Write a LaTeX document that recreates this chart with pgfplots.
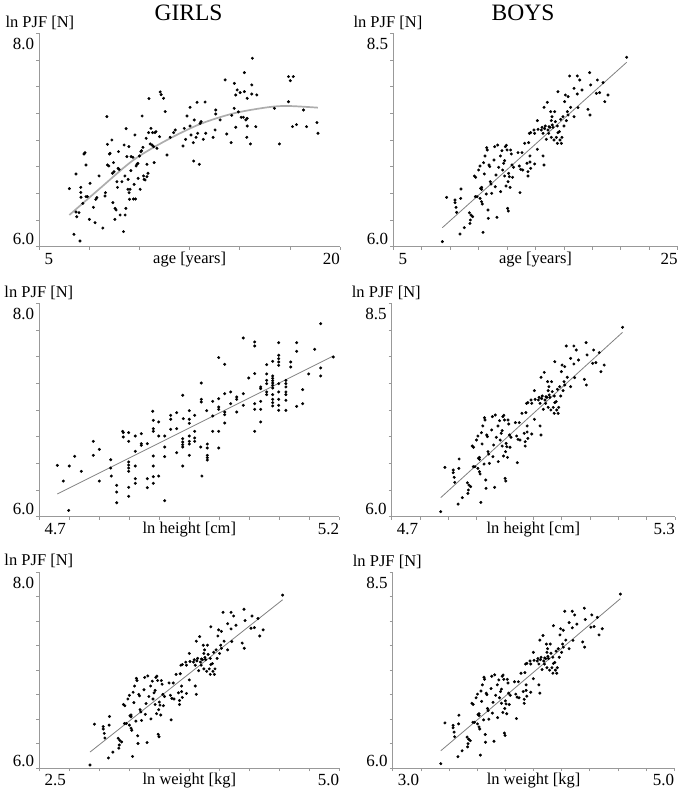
\documentclass[border=0pt]{standalone}
\usepackage{fontspec}
\setmainfont{Liberation Serif}
\usepackage{pgfplots}
\usepackage{pgfplotstable}
\pgfplotsset{compat=1.18}

\newcommand\tickfont{\fontsize{17}{19}\selectfont}
\newcommand\labfont{\fontsize{16.5}{19}\selectfont}

\pgfplotstableread{
age lnpjf
6.50 6.544
6.73 6.116
6.83 6.681
6.83 6.325
6.87 6.281
6.98 6.319
7.03 6.053
7.07 6.556
7.07 6.509
7.08 6.463
7.17 6.406
7.23 6.869
7.28 6.881
7.33 6.766
7.33 6.469
7.40 6.469
7.50 6.256
7.53 6.594
7.70 6.369
7.78 6.225
7.82 6.444
7.87 6.460
7.98 6.663
8.17 6.175
8.28 6.475
8.30 6.506
8.37 7.219
8.40 6.959
8.40 6.766
8.47 6.756
8.50 6.869
8.53 6.875
8.62 7.000
8.65 6.688
8.67 6.413
8.70 6.788
8.73 6.703
8.77 6.256
8.78 6.359
8.83 6.344
8.87 6.609
8.90 6.556
8.93 6.734
8.98 6.725
8.95 6.891
9.03 6.297
9.12 6.609
9.20 6.141
9.23 6.953
9.27 6.663
9.28 6.297
9.32 6.359
9.33 7.106
9.37 6.844
9.42 6.538
9.43 6.631
9.47 6.938
9.48 6.506
9.50 6.444
9.53 6.538
9.57 6.713
9.58 6.844
9.67 6.838
9.70 6.447
9.73 6.584
9.77 7.047
9.80 6.447
9.83 6.756
9.87 6.772
9.92 6.781
9.93 6.641
10.00 6.850
10.03 6.538
10.07 6.891
10.10 6.900
10.13 7.225
10.17 6.931
10.20 6.663
10.23 6.631
10.28 6.625
10.33 7.016
10.37 6.656
10.37 6.772
10.42 6.688
10.45 7.069
10.47 7.388
10.53 6.963
10.57 7.109
10.62 6.953
10.65 7.069
10.70 6.938
10.73 6.788
10.77 7.069
10.82 7.078
10.87 6.922
11.00 7.031
11.03 7.450
11.08 7.425
11.20 7.391
11.28 7.266
11.37 6.859
11.53 7.025
11.70 7.069
11.78 7.094
12.17 6.944
12.23 7.109
12.30 7.006
12.37 7.225
12.52 7.306
12.52 7.131
12.57 7.047
12.68 6.975
12.70 6.803
12.73 7.188
12.82 7.025
12.87 7.353
12.90 7.063
12.98 6.772
13.02 7.156
13.07 7.172
13.18 7.006
13.27 7.356
13.30 7.063
13.67 7.025
13.77 7.094
13.80 7.281
13.80 7.244
14.02 7.188
14.27 7.563
14.35 7.056
14.57 6.975
14.60 7.231
14.72 7.297
14.73 7.531
14.80 7.422
14.80 7.119
14.87 7.469
14.93 7.263
15.02 7.444
15.07 7.213
15.18 7.213
15.23 7.631
15.23 7.453
15.30 7.188
15.37 7.391
15.37 7.203
15.35 7.025
15.37 7.131
15.53 6.963
15.60 7.516
15.60 7.431
15.63 7.766
15.80 7.125
15.85 7.422
16.73 7.297
16.98 6.963
17.43 7.594
17.43 7.359
17.52 7.556
17.67 7.594
17.63 7.125
17.83 7.144
18.18 7.281
18.33 7.125
18.85 7.163
18.90 7.063
}\girlsage

\pgfplotstableread{
age lnpjf
6.50 6.297
8.03 6.547
9.70 6.813
11.37 7.000
13.03 7.150
14.70 7.250
16.37 7.306
17.37 7.319
18.90 7.303
}\girlsagefit

\pgfplotstableread{
height lnpjf
4.730 6.481
4.740 6.334
4.749 6.059
4.750 6.475
4.759 6.566
4.770 6.425
4.790 6.706
4.790 6.575
4.800 6.631
4.800 6.334
4.819 6.534
4.819 6.456
4.820 6.381
4.829 6.294
4.829 6.231
4.829 6.131
4.839 6.800
4.840 6.788
4.840 6.747
4.849 6.788
4.849 6.706
4.849 6.513
4.849 6.484
4.849 6.456
4.849 6.425
4.849 6.275
4.849 6.191
4.860 6.756
4.860 6.613
4.860 6.475
4.860 6.356
4.860 6.313
4.870 6.778
4.870 6.684
4.870 6.669
4.880 6.684
4.880 6.356
4.880 6.272
4.889 6.988
4.890 6.903
4.890 6.825
4.890 6.800
4.890 6.569
4.890 6.475
4.890 6.375
4.890 6.313
4.899 6.888
4.899 6.756
4.899 6.381
4.909 6.756
4.909 6.653
4.909 6.563
4.909 6.150
4.919 6.950
4.919 6.913
4.919 6.819
4.929 6.975
4.929 6.825
4.929 6.600
4.939 7.138
4.940 6.919
4.939 6.731
4.939 6.700
4.939 6.675
4.939 6.653
4.939 6.475
4.950 6.994
4.950 6.913
4.950 6.875
4.950 6.756
4.950 6.706
4.950 6.681
4.950 6.575
4.959 6.950
4.959 6.800
4.959 6.738
4.959 6.706
4.970 7.253
4.970 7.100
4.970 7.075
4.969 6.653
4.971 6.381
4.979 6.994
4.980 6.681
4.980 6.644
4.980 6.575
4.980 6.553
4.980 6.531
4.989 7.081
4.989 6.944
4.989 6.800
4.999 7.491
4.999 7.106
4.999 7.028
4.999 7.006
4.999 6.800
4.999 6.644
5.009 7.428
5.009 7.153
5.009 6.981
5.009 6.956
5.009 6.878
5.019 7.169
5.019 7.059
5.029 7.122
5.029 7.100
5.029 6.981
5.040 7.675
5.040 7.153
5.040 7.044
5.049 7.300
5.059 7.638
5.059 7.600
5.059 7.341
5.059 7.059
5.059 7.006
5.059 6.800
5.069 7.216
5.069 7.200
5.069 7.081
5.069 7.006
5.069 6.888
5.079 7.425
5.079 7.338
5.079 7.278
5.079 7.247
5.079 7.169
5.079 7.144
5.089 7.456
5.089 7.319
5.089 7.297
5.089 7.275
5.089 7.253
5.089 7.231
5.089 7.206
5.089 7.144
5.089 7.100
5.089 7.069
5.089 7.038
5.099 7.631
5.099 7.513
5.099 7.481
5.099 7.450
5.099 7.419
5.099 7.247
5.099 7.169
5.099 7.100
5.099 7.044
5.099 6.997
5.111 7.278
5.111 7.247
5.111 7.216
5.111 7.169
5.111 7.144
5.111 7.091
5.111 6.997
5.119 7.450
5.119 7.403
5.129 7.631
5.129 7.550
5.129 7.034
5.139 7.191
5.139 7.059
5.149 7.338
5.159 7.569
5.169 7.809
5.169 7.394
5.169 7.319
5.190 7.497
}\girlsheight

\pgfplotstableread{
height lnpjf
4.730 6.2125
5.190 7.506
}\girlsheightfit

% the boys panels and the girls weight panel show one and the same cloud
\pgfplotstableread{
age lnpjf
8.45 6.059
8.75 6.578
9.34 6.547
9.34 6.516
9.41 6.461
9.45 6.402
9.76 6.676
9.74 6.566
9.69 6.148
9.99 6.223
10.35 6.398
10.46 6.371
10.42 6.313
10.58 6.352
10.39 6.273
10.70 6.828
10.79 6.813
10.77 6.586
10.89 6.586
11.00 6.898
11.10 6.566
11.14 6.684
11.10 6.945
11.21 6.695
11.21 6.672
11.21 6.527
11.26 6.500
11.31 6.168
11.35 6.984
11.40 6.852
11.45 7.063
11.54 6.617
11.57 7.160
11.61 7.133
11.66 6.430
11.68 6.332
11.73 6.957
11.78 6.938
11.82 6.762
11.87 6.734
11.92 6.625
12.08 7.016
12.13 7.172
12.17 6.703
12.22 6.840
12.29 6.344
12.34 7.191
12.41 6.930
12.53 7.063
12.55 6.645
12.64 7.125
12.69 6.898
12.76 6.977
12.83 7.008
12.83 6.828
12.88 7.172
12.95 7.188
13.00 7.133
12.93 6.711
13.07 6.762
13.04 6.449
13.09 6.418
13.11 6.859
13.16 6.820
13.21 6.695
13.25 7.133
13.30 7.086
13.35 6.957
13.39 6.813
13.46 6.930
13.77 7.102
13.86 6.945
13.91 6.633
13.96 6.906
14.05 7.102
14.10 6.898
14.24 7.211
14.40 6.977
14.47 6.879
14.47 6.828
14.52 7.219
14.57 7.328
14.61 7.063
14.61 6.992
14.66 7.336
14.89 7.367
14.94 7.328
15.13 7.477
15.18 7.375
15.41 7.367
15.46 7.398
15.53 7.328
15.60 7.633
15.64 7.383
15.69 7.414
15.76 7.258
15.83 7.691
15.88 7.367
15.93 7.328
15.95 7.406
16.02 7.398
16.07 7.582
16.11 7.477
16.16 7.523
16.11 7.281
16.18 7.426
16.23 7.398
16.30 7.250
16.35 7.582
16.40 7.465
16.47 7.281
16.54 7.414
16.54 7.211
16.58 7.816
16.58 7.336
16.68 7.348
16.72 7.250
16.77 7.492
16.82 7.211
16.86 7.281
16.93 7.523
17.00 7.414
17.05 7.699
17.10 7.777
17.17 7.477
17.24 7.582
17.29 7.543
17.29 7.758
17.40 8.000
17.47 7.633
17.71 7.855
17.71 7.523
17.94 7.789
17.94 8.000
17.99 7.629
18.11 7.953
18.27 7.836
18.69 7.609
18.81 8.039
18.83 7.543
18.88 7.895
19.35 7.953
19.28 7.797
19.51 7.805
19.75 7.922
19.87 7.699
20.10 7.777
21.41 8.219
14.66 6.918
14.94 6.969
15.53 7.063
15.60 6.957
15.13 7.141
}\boyscloud

\pgfplotstableread{
age lnpjf
8.45 6.223
21.41 8.160
}\boysfit

\pgfplotsset{
  panel/.style={
    scale only axis, anchor=south west,
    axis lines*=left,
    axis line style={draw=black!40, line width=0.9pt},
    every tick/.style={draw=black!40, line width=0.7pt},
    tick align=outside,
    major tick length=3pt, minor tick length=3pt,
    clip=false,
    tick label style={font=\tickfont, inner sep=0pt},
    xticklabel style={anchor=north west, xshift=5pt, yshift=-3pt},
    extra x tick style={xticklabel style={anchor=north east, xshift=-5pt}},
    yticklabel style={anchor=south east, xshift=-2pt, yshift=1.5pt},
    extra y tick style={yticklabel style={anchor=north east, yshift=-6.5pt}},
    every axis x label/.style={at={(axis description cs:0.5,0)}, anchor=north, yshift=-5pt, font=\labfont, inner sep=0pt},
    every axis y label/.style={at={(axis description cs:0,1)}, anchor=base west, yshift=6pt, font=\labfont, inner sep=0pt},
    ylabel={ln PJF [N]},
  },
  girlsy/.style={ymin=6, ymax=8, ytick={6}, yticklabels={6.0}, extra y ticks={8}, extra y tick labels={8.0},
    minor ytick={6.25,6.5,6.75,7,7.25,7.5,7.75}},
  boysy/.style={ymin=6, ymax=8.5, ytick={6}, yticklabels={6.0}, extra y ticks={8.5}, extra y tick labels={8.5},
    minor ytick={6.3125,6.625,6.9375,7.25,7.5625,7.875,8.1875}},
  dots/.style={only marks, mark=*, mark size=1.3pt, mark options={draw=black, fill=black}},
  fit/.style={no marks, draw=black!50, line width=0.8pt},
}

\begin{document}
\begin{tikzpicture}
\path[use as bounding box] (0pt,0pt) rectangle (685pt,795pt);

\node[font=\fontsize{23.5}{26}\selectfont, anchor=base] at (188.5pt,774.3pt) {GIRLS};
\node[font=\fontsize{23.5}{26}\selectfont, anchor=base] at (523pt,774.3pt) {BOYS};

% girls age
\begin{axis}[panel, girlsy, at={(39.3pt,548.3pt)}, width=300.7pt, height=213.4pt,
  xmin=5, xmax=20, xtick={5}, xticklabels={5}, extra x ticks={20}, extra x tick labels={20},
  minor xtick={7.5,10,12.5,15,17.5},
  xlabel={age [years]}, ylabel style={xshift=-34pt}]
\addplot[dots] table[x=age, y=lnpjf] {\girlsage};
\addplot[no marks, draw=black!32, line width=1.7pt, smooth] table[x=age, y=lnpjf] {\girlsagefit};
\end{axis}

% boys age
\begin{axis}[panel, boysy, at={(393.3pt,548.3pt)}, width=284.4pt, height=213.4pt,
  xmin=5, xmax=25, xtick={5}, xticklabels={5}, extra x ticks={25}, extra x tick labels={25},
  minor xtick={7,9,11,13,15,17,19,21,23},
  xlabel={age [years]}, ylabel style={xshift=-40pt}]
\addplot[dots] table[x=age, y=lnpjf] {\boyscloud};
\addplot[fit] table[x=age, y=lnpjf] {\boysfit};
\end{axis}

% girls height
\begin{axis}[panel, girlsy, at={(39.3pt,278.3pt)}, width=300pt, height=213.4pt,
  xmin=4.7, xmax=5.2, xtick={4.7}, xticklabels={4.7}, extra x ticks={5.2}, extra x tick labels={5.2},
  minor xtick={4.75,4.8,4.85,4.9,4.95,5.0,5.05,5.1,5.15},
  xlabel={ln height [cm]}, ylabel style={xshift=-35pt}]
\addplot[dots] table[x=height, y=lnpjf] {\girlsheight};
\addplot[fit] table[x=height, y=lnpjf] {\girlsheightfit};
\end{axis}

% boys height
\begin{axis}[panel, boysy, at={(391.7pt,278.3pt)}, width=283.3pt, height=213.4pt,
  xmin=4.7, xmax=5.3, xtick={4.7}, xticklabels={4.7}, extra x ticks={5.3}, extra x tick labels={5.3},
  minor xtick={4.76,4.82,4.88,4.94,5.0,5.06,5.12,5.18,5.24},
  xlabel={ln height [cm]}, ylabel style={xshift=-40pt}]
\addplot[dots] table[x expr={4.5527+0.029716*\thisrow{age}}, y=lnpjf] {\boyscloud};
\addplot[fit] table[x expr={4.5527+0.029716*\thisrow{age}}, y=lnpjf] {\boysfit};
\end{axis}

% girls weight
\begin{axis}[panel, girlsy, at={(39.3pt,26.7pt)}, width=300pt, height=196.3pt,
  xmin=2.5, xmax=5.0, xtick={2.5}, xticklabels={2.5}, extra x ticks={5.0}, extra x tick labels={5.0},
  minor xtick={2.75,3,3.25,3.5,3.75,4,4.25,4.5,4.75},
  xlabel={ln weight [kg]}, ylabel style={xshift=-35pt}]
\addplot[dots] table[x expr={1.8755+0.12389*\thisrow{age}}, y expr={1.178+0.8014*\thisrow{lnpjf}}] {\boyscloud};
\addplot[fit] table[x expr={1.8755+0.12389*\thisrow{age}}, y expr={1.178+0.8014*\thisrow{lnpjf}}] {\boysfit};
\end{axis}

% boys weight
\begin{axis}[panel, boysy, at={(392.7pt,26.7pt)}, width=281.6pt, height=196.3pt,
  xmin=3.0, xmax=5.0, xtick={3}, xticklabels={3.0}, extra x ticks={5}, extra x tick labels={5.0},
  minor xtick={3.2,3.4,3.6,3.8,4.0,4.2,4.4,4.6,4.8},
  xlabel={ln weight [kg]}, ylabel style={xshift=-40pt}]
\addplot[dots] table[x expr={2.5096+0.09843*\thisrow{age}}, y=lnpjf] {\boyscloud};
\addplot[fit] table[x expr={2.5096+0.09843*\thisrow{age}}, y=lnpjf] {\boysfit};
\end{axis}
\end{tikzpicture}
\end{document}
